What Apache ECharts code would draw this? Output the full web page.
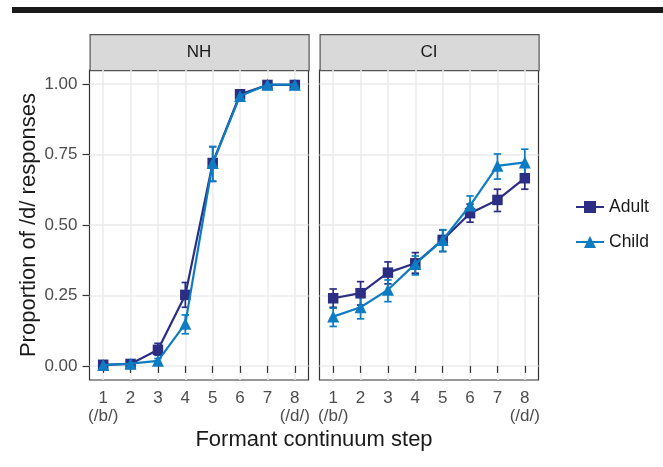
<!DOCTYPE html>
<html>
<head>
<meta charset="utf-8">
<script src="https://cdn.jsdelivr.net/npm/echarts@6/dist/echarts.min.js"></script>
<style>html,body{margin:0;padding:0;background:#fff}#c{width:663px;height:467px}</style>
</head>
<body>
<div id="c"></div>
<script>
// ---- Data ----
var steps = [1, 2, 3, 4, 5, 6, 7, 8];
var panels = ['NH', 'CI'];
var groups = ['Adult', 'Child'];
var yTicks = [0, 0.25, 0.5, 0.75, 1.0];
var stepEndLabels = {1: '(/b/)', 8: '(/d/)'};

var nhAdultMean = [0.004, 0.007, 0.057, 0.252, 0.720, 0.964, 0.997, 0.997];
var nhAdultLow  = [0.000, 0.002, 0.038, 0.208, 0.655, 0.955, 0.994, 0.994];
var nhAdultHigh = [0.008, 0.012, 0.080, 0.296, 0.778, 0.972, 1.000, 1.000];

var nhChildMean = [0.003, 0.008, 0.018, 0.150, 0.720, 0.958, 0.998, 0.998];
var nhChildLow  = [0.000, 0.003, 0.010, 0.114, 0.655, 0.948, 0.995, 0.995];
var nhChildHigh = [0.006, 0.013, 0.026, 0.181, 0.778, 0.968, 1.000, 1.000];

var ciAdultMean = [0.240, 0.258, 0.331, 0.364, 0.447, 0.542, 0.589, 0.666];
var ciAdultLow  = [0.208, 0.216, 0.291, 0.329, 0.406, 0.510, 0.548, 0.627];
var ciAdultHigh = [0.273, 0.299, 0.369, 0.402, 0.483, 0.574, 0.627, 0.705];

var ciChildMean = [0.175, 0.208, 0.270, 0.362, 0.447, 0.569, 0.710, 0.722];
var ciChildLow  = [0.140, 0.167, 0.228, 0.323, 0.406, 0.540, 0.663, 0.678];
var ciChildHigh = [0.205, 0.243, 0.305, 0.390, 0.483, 0.603, 0.752, 0.769];

var colors = {Adult: '#2b2e83', Child: '#0d7cc3'};
var symbols = {Adult: 'rect', Child: 'triangle'};

var dataSets = [
  {Adult: [nhAdultMean, nhAdultLow, nhAdultHigh], Child: [nhChildMean, nhChildLow, nhChildHigh]},
  {Adult: [ciAdultMean, ciAdultLow, ciAdultHigh], Child: [ciChildMean, ciChildLow, ciChildHigh]}
];

var FONT = '"Liberation Sans", Arial, Helvetica, sans-serif';
var chart = echarts.init(document.getElementById('c'), null, {renderer: 'canvas'});

var gridLefts = [89.5, 319.5];
var gridW = 219;
var grids = [], xAxes = [], yAxes = [], series = [], graphics = [];

panels.forEach(function (p, i) {
  grids.push({left: gridLefts[i], top: 70, width: gridW, height: 310, show: true,
    backgroundColor: '#fff', borderColor: '#333', borderWidth: 1.2, containLabel: false});
  xAxes.push({type: 'value', gridIndex: i, min: 0.5, max: 8.5,
    axisLine: {show: false},
    axisTick: {show: true, customValues: steps, length: 7, lineStyle: {color: '#333', width: 1.2}},
    axisLabel: {customValues: steps, margin: 9, fontFamily: FONT, fontSize: 17, color: '#4d4d4d', lineHeight: 18,
      formatter: function (v) { return stepEndLabels[v] ? v + '\n' + stepEndLabels[v] : String(v); }},
    splitLine: {show: true, lineStyle: {color: '#ebebeb', width: 1.5}}
  });
  yAxes.push({type: 'value', gridIndex: i, min: -0.05, max: 1.05,
    axisLine: {show: false},
    axisTick: {show: i === 0, customValues: yTicks, length: 7, lineStyle: {color: '#333', width: 1.2}},
    axisLabel: {show: i === 0, customValues: yTicks, margin: 12, fontFamily: FONT, fontSize: 17, color: '#4d4d4d',
      formatter: function (v) { return v.toFixed(2); }},
    splitLine: {show: true, lineStyle: {color: '#ebebeb', width: 1.5}},
    name: i === 0 ? 'Proportion of /d/ responses' : '',
    nameLocation: 'middle', nameGap: 50, nameRotate: 90,
    nameTextStyle: {fontFamily: FONT, fontSize: 22, color: '#1a1a1a'}
  });
  // strip
  graphics.push({type: 'rect', left: gridLefts[i], top: 34, shape: {width: gridW, height: 36},
    style: {fill: '#d9d9d9', stroke: '#555', lineWidth: 1.2}});
  graphics.push({type: 'text', x: gridLefts[i] + gridW / 2, y: 52,
    style: {text: p, fontFamily: FONT, fontSize: 17, fill: '#1a1a1a', align: 'center', verticalAlign: 'middle'}});

  groups.forEach(function (g) {
    var d = dataSets[i][g];
    var errData = steps.map(function (s, k) { return [s, d[1][k], d[2][k]]; });
    series.push({
      type: 'custom', name: g + ' error', xAxisIndex: i, yAxisIndex: i, z: 2,
      data: errData, itemStyle: {color: colors[g]},
      renderItem: (function (col) {
        return function (params, api) {
          var lo = api.coord([api.value(0), api.value(1)]);
          var hi = api.coord([api.value(0), api.value(2)]);
          var hw = 3.7;
          return {type: 'group', children: [
            {type: 'line', shape: {x1: lo[0], y1: lo[1], x2: hi[0], y2: hi[1]}, style: {stroke: col, lineWidth: 1.7}},
            {type: 'line', shape: {x1: lo[0] - hw, y1: lo[1], x2: lo[0] + hw, y2: lo[1]}, style: {stroke: col, lineWidth: 1.7}},
            {type: 'line', shape: {x1: hi[0] - hw, y1: hi[1], x2: hi[0] + hw, y2: hi[1]}, style: {stroke: col, lineWidth: 1.7}}
          ]};
        };
      })(colors[g]),
      silent: true
    });
    series.push({
      type: 'line', name: g, xAxisIndex: i, yAxisIndex: i, z: g === 'Child' ? 4 : 3,
      data: steps.map(function (s, k) { return [s, d[0][k]]; }),
      symbol: symbols[g], symbolSize: g === 'Adult' ? 10.5 : 12, showSymbol: true,
      itemStyle: {color: colors[g]}, lineStyle: {color: colors[g], width: 2.2},
      animation: false, clip: false
    });
  });
});

graphics.push({type: 'rect', left: 12, top: 7, shape: {width: 651, height: 6}, style: {fill: '#1a1a1a'}});
graphics.push({type: 'text', x: 314, y: 440,
  style: {text: 'Formant continuum step', fontFamily: FONT, fontSize: 22, fill: '#1a1a1a', align: 'center', verticalAlign: 'middle'}});

chart.setOption({
  animation: false,
  backgroundColor: '#fff',
  grid: grids, xAxis: xAxes, yAxis: yAxes, series: series,
  legend: {orient: 'vertical', left: 575, top: 198, padding: 0, itemWidth: 28, itemHeight: 15, itemGap: 17,
    data: ['Adult', 'Child'], textStyle: {fontFamily: FONT, fontSize: 17.5, color: '#1a1a1a'}},
  graphic: graphics
});
</script>
</body>
</html>
